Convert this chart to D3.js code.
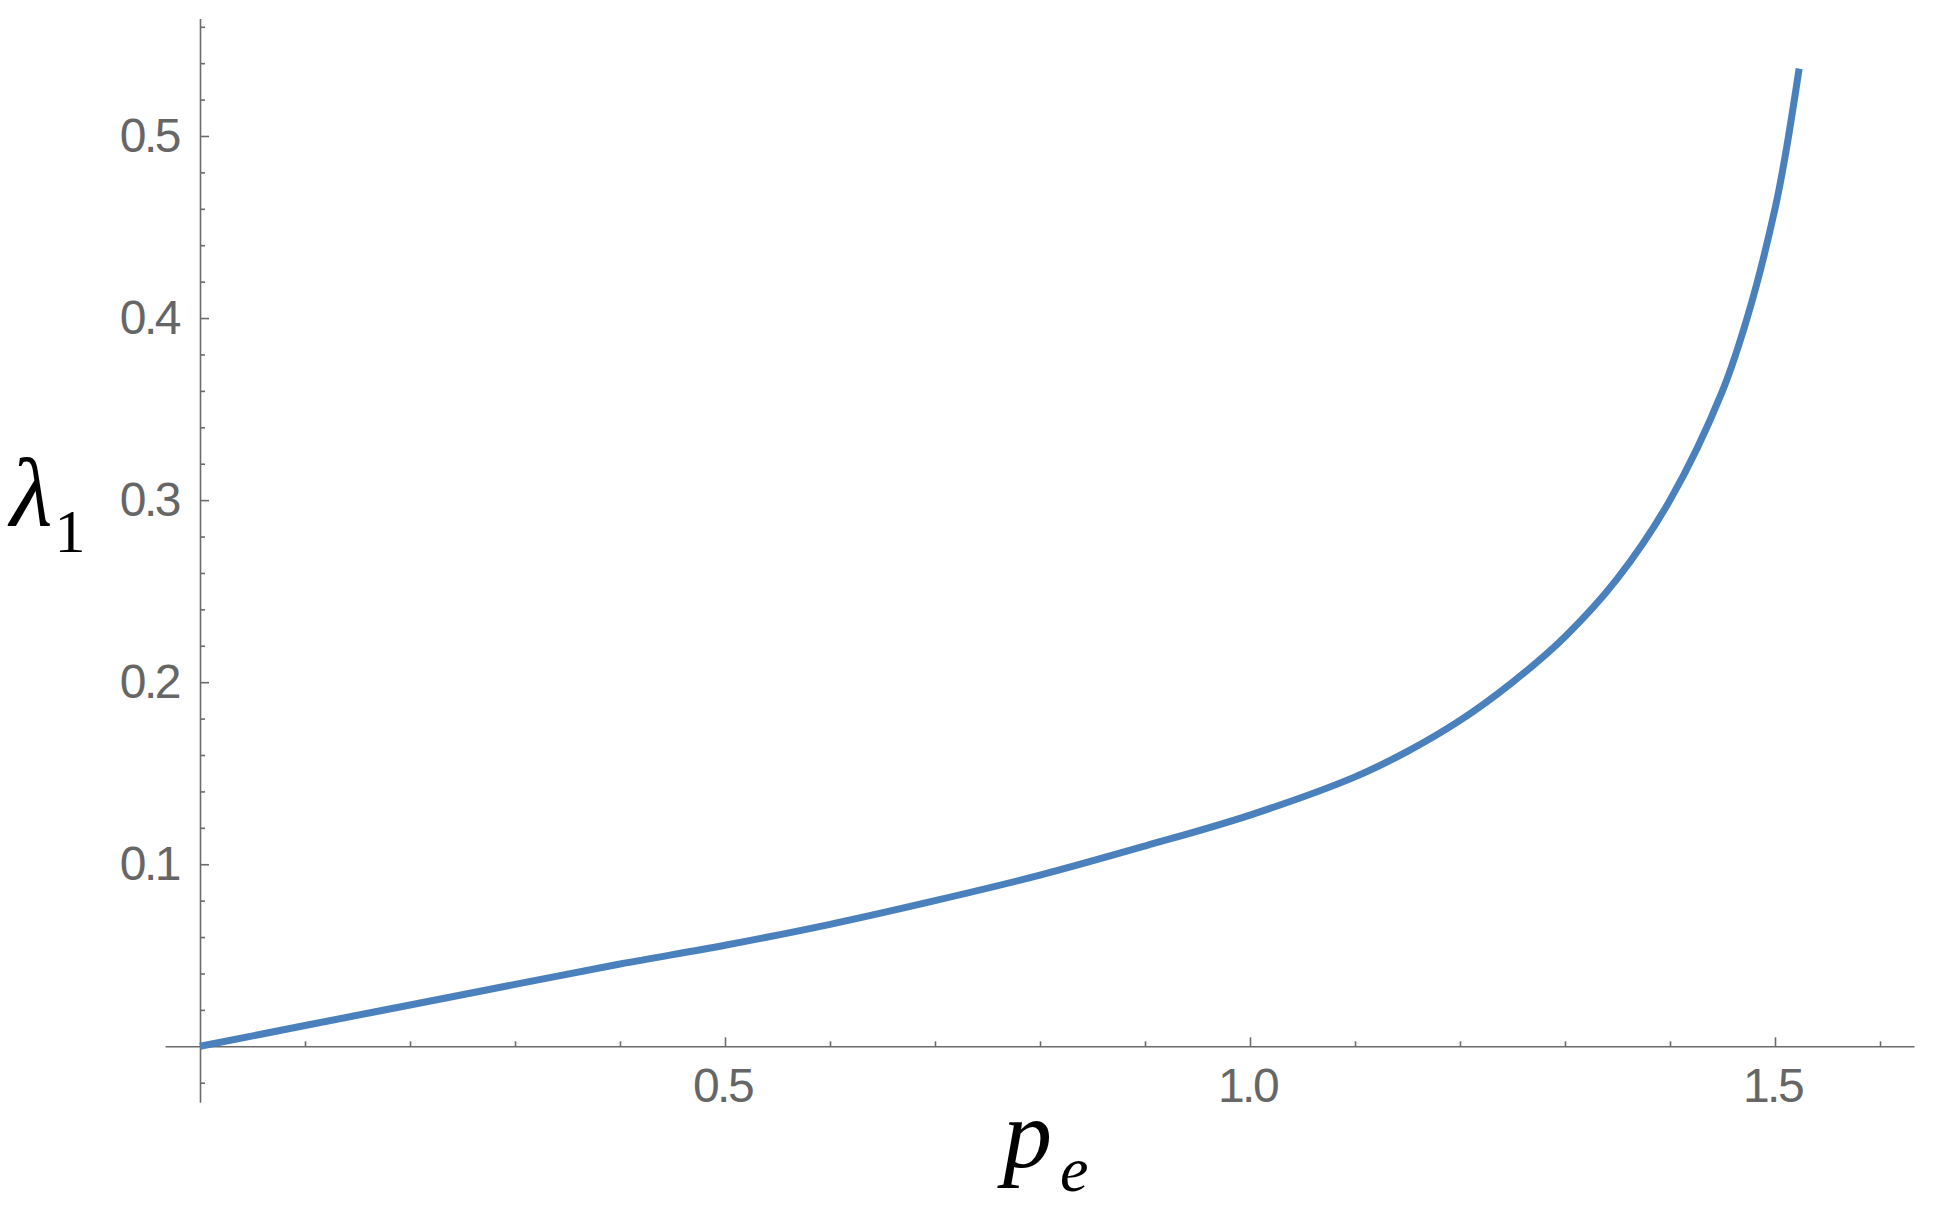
<!DOCTYPE html>
<html>
<head>
<meta charset="utf-8">
<script src="https://cdn.jsdelivr.net/npm/d3@7"></script>
<style>
    html, body { margin: 0; padding: 0; background: #fff; }
    svg { display: block; }
    .tick-label text { font-family: "Liberation Sans", Arial, sans-serif; font-size: 48px; fill: #666; letter-spacing: -2.5px; }
    .math { font-family: "Liberation Serif", "Times New Roman", serif; fill: #000; }
</style>
</head>
<body>
<div id="chart"></div>
<script>
    // lambda_1 as a function of p_e
    const peValues = [0, 0.1, 0.2, 0.3, 0.4, 0.5, 0.6, 0.7, 0.8, 0.9, 1.0, 1.1, 1.15, 1.2, 1.25, 1.3, 1.35, 1.4, 1.45, 1.475, 1.5, 1.51, 1.523];
    const lambdaValues = [0, 0.0114, 0.0227, 0.034, 0.0452, 0.0555, 0.067, 0.080, 0.094, 0.110, 0.127, 0.148, 0.162, 0.179, 0.200, 0.225, 0.257, 0.300, 0.360, 0.403, 0.460, 0.490, 0.537];

    const xMajorTicks = [0.5, 1.0, 1.5];
    const xMinorTicks = [0.1, 0.2, 0.3, 0.4, 0.6, 0.7, 0.8, 0.9, 1.1, 1.2, 1.3, 1.4, 1.6];
    const yMajorTicks = [0.1, 0.2, 0.3, 0.4, 0.5];
    const yMinorTicks = [-0.02, 0.02, 0.04, 0.06, 0.08, 0.12, 0.14, 0.16, 0.18, 0.22, 0.24, 0.26, 0.28,
                         0.32, 0.34, 0.36, 0.38, 0.42, 0.44, 0.46, 0.48, 0.52, 0.54, 0.56];

    const xDomain = [-0.0333, 1.6324];
    const yDomain = [-0.0307, 0.5645];

    const W = 1934, H = 1211;
    const originX = 200, pxPerX = 1050;
    const originY = 1046.3, pxPerY = 1820.6;

    const svg = d3.select('#chart')
        .append('svg')
        .attr('width', W)
        .attr('height', H);

    const xScale = d3.scaleLinear()
        .domain(xDomain)
        .range(xDomain.map(v => originX + v * pxPerX));
    const yScale = d3.scaleLinear()
        .domain(yDomain)
        .range(yDomain.map(v => originY - v * pxPerY));

    const axisColor = '#6b6b6b';

    function styleAxis(sel) {
        sel.selectAll('.domain').attr('stroke', axisColor).attr('stroke-width', 1.6);
        sel.selectAll('.tick line').attr('stroke', axisColor).attr('stroke-width', 1.6);
    }

    // x axis: line + inward ticks
    const xAxisG = svg.append('g').attr('transform', `translate(0,${yScale(0)})`);
    xAxisG.append('g')
        .call(d3.axisTop(xScale).tickValues(xMinorTicks).tickSize(5).tickSizeOuter(0).tickFormat(''))
        .call(styleAxis);
    xAxisG.append('g')
        .call(d3.axisTop(xScale).tickValues(xMajorTicks).tickSize(9).tickSizeOuter(0).tickFormat(''))
        .call(g => g.select('.domain').remove())
        .call(styleAxis);
    xAxisG.append('g')
        .attr('class', 'tick-label')
        .call(d3.axisBottom(xScale).tickValues(xMajorTicks).tickSize(0).tickPadding(22).tickFormat(d3.format('.1f')))
        .call(g => g.select('.domain').remove())
        .call(g => g.selectAll('text').attr('fill', '#666').attr('dx', '-3px'));

    // y axis: line + inward ticks
    const yAxisG = svg.append('g').attr('transform', `translate(${xScale(0)},0)`);
    yAxisG.append('g')
        .call(d3.axisRight(yScale).tickValues(yMinorTicks).tickSize(5).tickSizeOuter(0).tickFormat(''))
        .call(styleAxis);
    yAxisG.append('g')
        .call(d3.axisRight(yScale).tickValues(yMajorTicks).tickSize(9).tickSizeOuter(0).tickFormat(''))
        .call(g => g.select('.domain').remove())
        .call(styleAxis);
    yAxisG.append('g')
        .attr('class', 'tick-label')
        .call(d3.axisLeft(yScale).tickValues(yMajorTicks).tickSize(0).tickPadding(21).tickFormat(d3.format('.1f')))
        .call(g => g.select('.domain').remove())
        .call(g => g.selectAll('text').attr('fill', '#666'));

    // curve
    const points = peValues.map((p, i) => [p, lambdaValues[i]]);
    const line = d3.line()
        .x(d => xScale(d[0]))
        .y(d => yScale(d[1]))
        .curve(d3.curveCatmullRom.alpha(0.5));

    svg.append('path')
        .datum(points)
        .attr('d', line)
        .attr('fill', 'none')
        .attr('stroke', '#4a81bd')
        .attr('stroke-width', 7);

    // axis titles
    const yTitle = svg.append('text')
        .attr('class', 'math')
        .attr('x', 10)
        .attr('y', 525);
    yTitle.append('tspan').attr('font-size', 98).attr('font-style', 'italic').text('λ');
    yTitle.append('tspan').attr('font-size', 62).attr('dx', 2).attr('dy', 27).text('1');

    const xTitle = svg.append('text')
        .attr('class', 'math')
        .attr('x', 1003)
        .attr('y', 1167);
    xTitle.append('tspan').attr('font-size', 98).attr('font-style', 'italic').text('p');
    xTitle.append('tspan').attr('font-size', 64).attr('font-style', 'italic').attr('dx', 8).attr('dy', 24).text('e');
</script>
</body>
</html>
